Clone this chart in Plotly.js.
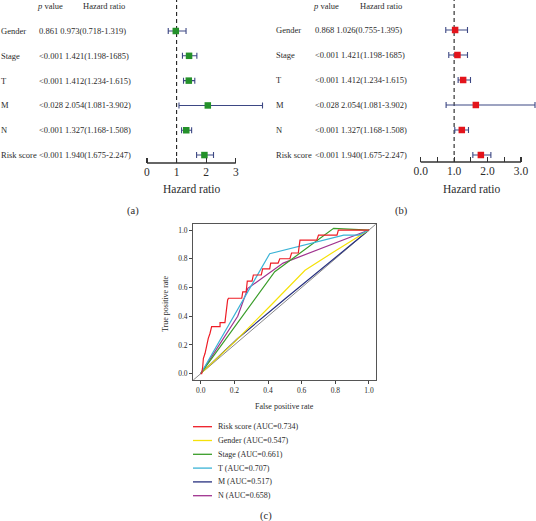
<!DOCTYPE html>
<html><head><meta charset="utf-8">
<script src="https://cdn.plot.ly/plotly-3.0.1.min.js"></script>
<style>html,body{margin:0;padding:0;background:#fff}</style>
</head><body><div id="chart" style="width:536px;height:521px"></div>
<script>
// ---------- data ----------
const variables = ['Gender','Stage','T','M','N','Risk score'];

// panel (a): univariate
const aText = ['0.861 0.973(0.718-1.319)','<0.001 1.421(1.198-1685)','<0.001 1.412(1.234-1.615)','<0.028 2.054(1.081-3.902)','<0.001 1.327(1.168-1.508)','<0.001 1.940(1.675-2.247)'];
const aHR   = [0.973, 1.421, 1.412, 2.054, 1.327, 1.940];
const aLow  = [0.718, 1.198, 1.234, 1.081, 1.168, 1.675];
const aHigh = [1.319, 1.685, 1.615, 3.902, 1.508, 2.247];
const aTicks = [0, 1, 2, 3];
const aTickText = ['0', '1', '2', '3'];

// panel (b): multivariate (plotted positions)
const bText = ['0.868 1.026(0.755-1.395)','<0.001 1.421(1.198-1685)','<0.001 1.412(1.234-1.615)','<0.028 2.054(1.081-3.902)','<0.001 1.327(1.168-1.508)','<0.001 1.940(1.675-2.247)'];
const bHR   = [1.03, 1.10, 1.27, 1.65, 1.23, 1.80];
const bLow  = [0.75, 0.84, 1.12, 0.76, 1.02, 1.56];
const bHigh = [1.40, 1.40, 1.49, 3.42, 1.43, 2.10];
const bTicks = [0, 0.5, 1, 1.5, 2, 2.5, 3];
const bTickText = ['0.0', '', '1.0', '', '2.0', '', '3.0'];

const headerP = '<i>p</i> value';
const headerHR = 'Hazard ratio';
const axisTitle = 'Hazard ratio';

// panel (c): ROC curves
const rocNames = ['Risk score', 'Gender', 'Stage', 'T', 'M', 'N'];
const rocAUC = ['0.734', '0.547', '0.661', '0.707', '0.517', '0.658'];
const riskFPR = [0,0.006,0.012,0.016,0.026,0.036,0.045,0.055,0.065,0.115,0.115,0.144,0.149,0.155,0.16,0.165,0.244,0.25,0.27,0.277,0.305,0.313,0.36,0.368,0.41,0.416,0.46,0.47,0.53,0.54,0.58,0.59,0.69,0.70,0.81,0.818,1];
const riskTPR = [0,0,0.05,0.107,0.142,0.21,0.246,0.28,0.327,0.327,0.355,0.355,0.42,0.466,0.513,0.525,0.525,0.57,0.57,0.645,0.645,0.687,0.687,0.73,0.73,0.77,0.77,0.80,0.80,0.84,0.84,0.93,0.93,0.965,0.965,1.0,1.0];
const genderFPR = [0,0.2,0.42,0.62,0.78,1];
const genderTPR = [0,0.22,0.48,0.72,0.84,1];
const stageFPR = [0,0.44,0.79,1];
const stageTPR = [0,0.71,1.012,1];
const tFPR = [0,0.41,0.85,0.94,1];
const tTPR = [0,0.835,0.965,0.965,1];
const mFPR = [0,0.22,0.5,1];
const mTPR = [0,0.245,0.52,1];
const nFPR = [0,0.22,0.28,0.49,1];
const nTPR = [0,0.40,0.594,0.77,1];
const diagXY = [-0.1, 1.1];
const rocTicks = [0, 0.2, 0.4, 0.6, 0.8, 1.0];

// ---------- styles ----------
const FONT = 'Liberation Serif';
const TXT = '#2b2b2b';
const rocColors = ['#ee1c25', '#f5e10a', '#3a9d2a', '#3bb3d6', '#27307f', '#a0338f'];
const rocSeries = [[riskFPR, riskTPR],[genderFPR, genderTPR],[stageFPR, stageTPR],[tFPR, tTPR],[mFPR, mTPR],[nFPR, nTPR]];

const W = 536, H = 521;
const px = v => v / W;
const py = v => 1 - v / H;

const rowIdx = variables.map((_, i) => i);
const traces = [];

function forest(hr, lo, hi, xa, ya, color) {
  traces.push({
    type: 'scatter', mode: 'markers', x: hr, y: rowIdx, xaxis: xa, yaxis: ya,
    marker: {symbol: 'square', size: 6.5, color: color},
    error_x: {type: 'data', symmetric: false,
      array: hi.map((h, i) => h - hr[i]), arrayminus: lo.map((l, i) => hr[i] - l),
      color: '#3d4884', thickness: 1.1, width: 3},
    showlegend: false, hoverinfo: 'skip'
  });
}
forest(aHR, aLow, aHigh, 'x', 'y', '#24912a');
forest(bHR, bLow, bHigh, 'x2', 'y2', '#e3141b');

// diagonal
traces.push({type:'scatter', mode:'lines', x: diagXY, y: diagXY, xaxis:'x3', yaxis:'y3',
  line:{color:'#8a8a8a', width:1}, showlegend:false, hoverinfo:'skip'});
// ROC curves drawn with risk score on top
[4,5,1,2,3,0].forEach(i => {
  traces.push({type:'scatter', mode:'lines', x: rocSeries[i][0], y: rocSeries[i][1],
    xaxis:'x3', yaxis:'y3', name: rocNames[i],
    line:{color: rocColors[i], width: 1.2}, showlegend:false, hoverinfo:'skip'});
});

const annotations = [];
const shapes = [];
const esc = s => s.replace(/</g, '&lt;');

function forestText(texts, yref, labelX, valX, hdrPX, hdrHRX) {
  variables.forEach((v, i) => {
    annotations.push({xref:'paper', yref: yref, x: px(labelX), y: i, text: v, showarrow:false,
      xanchor:'left', yanchor:'middle', font:{family:FONT, size:8.5, color:TXT}});
    annotations.push({xref:'paper', yref: yref, x: px(valX), y: i, text: esc(texts[i]), showarrow:false,
      xanchor:'left', yanchor:'middle', font:{family:FONT, size:8.5, color:TXT}});
  });
  annotations.push({xref:'paper', yref:'paper', x: px(hdrPX), y: py(6), text: headerP, showarrow:false,
    xanchor:'left', yanchor:'middle', font:{family:FONT, size:8.5, color:TXT}});
  annotations.push({xref:'paper', yref:'paper', x: px(hdrHRX), y: py(6), text: headerHR, showarrow:false,
    xanchor:'left', yanchor:'middle', font:{family:FONT, size:8.5, color:TXT}});
}
forestText(aText, 'y', -1, 37, 35, 81);
forestText(bText, 'y2', 274, 313, 311, 358);

// axis lines & reference lines for forest plots
[['x','y',aTicks],['x2','y2',bTicks]].forEach(([xa, ya, tk]) => {
  shapes.push({type:'line', xref:xa, yref: ya + ' domain', x0: Math.min(...tk), x1: Math.max(...tk), y0:0, y1:0,
    line:{color:'#333', width:1.3}});
  shapes.push({type:'line', xref:xa, yref: ya + ' domain', x0: 1, x1: 1, y0:0, y1:1, layer:'below',
    line:{color:'#222', width:1.1, dash:'4px,3px'}});
});

// axis titles and panel labels
annotations.push({xref:'paper', yref:'paper', x: px(191.5), y: py(189), text: axisTitle, showarrow:false,
  xanchor:'center', yanchor:'middle', font:{family:FONT, size:11.5, color:TXT}});
annotations.push({xref:'paper', yref:'paper', x: px(471), y: py(189), text: axisTitle, showarrow:false,
  xanchor:'center', yanchor:'middle', font:{family:FONT, size:11.5, color:TXT}});
annotations.push({xref:'paper', yref:'paper', x: px(133), y: py(211), text: '(a)', showarrow:false,
  xanchor:'center', yanchor:'middle', font:{family:FONT, size:10.5, color:TXT}});
annotations.push({xref:'paper', yref:'paper', x: px(401), y: py(211), text: '(b)', showarrow:false,
  xanchor:'center', yanchor:'middle', font:{family:FONT, size:10.5, color:TXT}});
annotations.push({xref:'paper', yref:'paper', x: px(266), y: py(516), text: '(c)', showarrow:false,
  xanchor:'center', yanchor:'middle', font:{family:FONT, size:10.5, color:TXT}});
annotations.push({xref:'paper', yref:'paper', x: px(284.5), y: py(406), text: 'False positive rate', showarrow:false,
  xanchor:'center', yanchor:'middle', font:{family:FONT, size:8, color:TXT}});
annotations.push({xref:'paper', yref:'paper', x: px(165), y: py(303), text: 'True positive rate', showarrow:false,
  textangle:-90, xanchor:'center', yanchor:'middle', font:{family:FONT, size:8, color:TXT}});

// manual legend for ROC
rocNames.forEach((n, i) => {
  const yy = 426.7 + 13.8 * i;
  shapes.push({type:'line', xref:'paper', yref:'paper', x0: px(193), x1: px(212), y0: py(yy), y1: py(yy),
    line:{color: rocColors[i], width:1.3}});
  annotations.push({xref:'paper', yref:'paper', x: px(215.5), y: py(yy), text: n + ' (AUC=' + rocAUC[i] + ')',
    showarrow:false, xanchor:'left', yanchor:'middle', font:{family:FONT, size:8, color:TXT}});
});

const forestX = (dom, rng, tk, tt) => ({domain: dom, range: rng, tickvals: tk, ticktext: tt,
  ticks:'inside', ticklen:5, tickwidth:1.2, tickcolor:'#333', showline:false, zeroline:false, showgrid:false,
  tickfont:{family:FONT, size:11.5, color:TXT}, fixedrange:true});
const rocAx = (dom, rng) => ({domain: dom, range: rng, tickvals: rocTicks, ticktext: rocTicks.map(v => v.toFixed(1)),
  ticks:'outside', ticklen:3, tickwidth:1, tickcolor:'#444', showline:true, mirror:true, linecolor:'#555', linewidth:1.2,
  zeroline:false, showgrid:false, tickfont:{family:FONT, size:7.5, color:TXT}});

const layout = {
  width: W, height: H, margin:{l:0, r:0, t:0, b:0}, paper_bgcolor:'#fff', plot_bgcolor:'rgba(0,0,0,0)',
  showlegend:false, font:{family:FONT, color:TXT},
  xaxis: forestX([px(140), px(266)], [-0.236, 4.02], aTicks, aTickText),
  yaxis: {domain:[py(163), 1], range:[5.32, -1.25], visible:false},
  xaxis2: Object.assign(forestX([px(408), 1], [-0.38, 3.45], bTicks, bTickText), {anchor:'y2'}),
  yaxis2: {domain:[py(162), 1], range:[5.28, -1.2], visible:false, anchor:'x2'},
  xaxis3: Object.assign(rocAx([px(193.3), px(375.7)], [-0.044, 1.04]), {anchor:'y3'}),
  yaxis3: Object.assign(rocAx([py(380), py(224)], [-0.044, 1.042]), {anchor:'x3'}),
  annotations: annotations, shapes: shapes
};
layout.xaxis.anchor = 'y';
Plotly.newPlot('chart', traces, layout, {staticPlot:true, displayModeBar:false});
</script></body></html>
